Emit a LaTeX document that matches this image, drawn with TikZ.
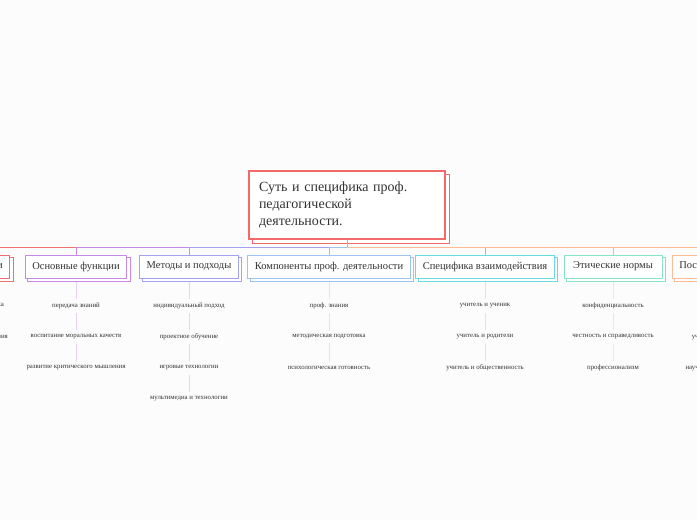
\documentclass[tikz,border=0pt]{standalone}
\usepackage{fontspec}
\setmainfont{Liberation Serif}
\usetikzlibrary{backgrounds}
\definecolor{bg}{RGB}{252,252,252}
\definecolor{txt}{RGB}{51,51,51}
\definecolor{cRoot}{RGB}{242,106,106}
\definecolor{cA}{RGB}{240,112,112}
\definecolor{cB}{RGB}{200,136,232}
\definecolor{cC}{RGB}{166,160,240}
\definecolor{cD}{RGB}{156,196,240}
\definecolor{cE}{RGB}{102,220,224}
\definecolor{cF}{RGB}{136,228,196}
\definecolor{cG}{RGB}{255,186,150}
\definecolor{cStem}{RGB}{214,176,140}
\tikzset{
  rootbox/.style={draw=cRoot, line width=1.2pt, fill=white, text=txt,
    minimum width=196pt, minimum height=68pt, text width=176pt, align=left,
    inner xsep=10pt, font=\fontsize{14}{17}\selectfont},
  branchbox/.style={draw=#1, line width=1pt, fill=white, text=txt,
    minimum height=23pt, inner xsep=7pt, font=\fontsize{10.5}{12}\selectfont},
  shadowbox/.style={draw=#1, line width=1pt, fill=white},
  item/.style={font=\fontsize{6.8}{8}\selectfont, inner sep=2pt, text=txt},
  link/.style={draw=#1, line width=1pt},
  sublink/.style={draw=#1!40!white, line width=1pt, shorten <=2pt, shorten >=2pt},
  firstlink/.style={draw=#1!40!white, line width=1pt, shorten <=3pt, shorten >=2pt},
}
\begin{document}
\begin{tikzpicture}[x=1pt,y=-1pt]
\useasboundingbox (0,0) rectangle (697,520);
\begin{scope}
\clip (0,0) rectangle (697,520);
\node[rootbox] (root) at (347,205) {Суть и специфика проф.\\педагогической\\деятельности.};
\coordinate (hub) at (347,247);

\node[branchbox=cA] (bA) at (-29,266.5) {Цели и задачи};
\node[branchbox=cB, minimum width=100pt] (bB) at (76,266.5) {Основные функции};
\node[branchbox=cC, minimum width=96pt] (bC) at (189,266.5) {Методы и подходы};
\node[branchbox=cD, minimum width=158pt] (bD) at (329,266.5) {Компоненты проф. деятельности};
\node[branchbox=cE, minimum width=134pt] (bE) at (485,266.5) {Специфика взаимодействия};
\node[branchbox=cF, minimum width=98pt] (bF) at (613,266.5) {Этические нормы};
\node[branchbox=cG] (bG) at (727,266.5) {Постоянное развитие};

\draw[link=cStem] (root.south) -- (hub);
\draw[link=cA] (hub) -| (bA.north);
\draw[link=cB] (hub) -| (bB.north);
\draw[link=cC] (hub) -| (bC.north);
\draw[link=cD] (hub) -| (bD.north);
\draw[link=cE] (hub) -| (bE.north);
\draw[link=cF] (hub) -| (bF.north);
\draw[link=cG] (hub) -| (bG.north);

% column A
\node[item] (a1) at (-36,306) {развитие личности ученика};
\node[item] (a2) at (-36,337) {формирование мировоззрения};
\node[item] (a3) at (-36,368) {обучение и воспитание};
% column B
\node[item] (b1) at (76,306) {передача знаний};
\node[item] (b2) at (76,337) {воспитание моральных качеств};
\node[item] (b3) at (76,368) {развитие критического мышления};
% column C
\node[item] (c1) at (189,306) {индивидуальный подход};
\node[item] (c2) at (189,337) {проектное обучение};
\node[item] (c3) at (189,368) {игровые технологии};
\node[item] (c4) at (189,399) {мультимедиа и технологии};
% column D
\node[item] (d1) at (329,306) {проф. знания};
\node[item] (d2) at (329,337) {методическая подготовка};
\node[item] (d3) at (329,368) {психологическая готовность};
% column E
\node[item] (e1) at (485,306) {учитель и ученик};
\node[item] (e2) at (485,337) {учитель и родители};
\node[item] (e3) at (485,368) {учитель и общественность};
% column F
\node[item] (f1) at (613,306) {конфиденциальность};
\node[item] (f2) at (613,337) {честность и справедливость};
\node[item] (f3) at (613,368) {профессионализм};
% column G
\node[item] (g1) at (727,306) {самообразование};
\node[item] (g2) at (727,337) {участие в конференциях};
\node[item] (g3) at (727,368) {научно-методическая работа};

\draw[firstlink=cA] (bA.south) -- (a1.north);
\draw[sublink=cA] (a1.south) -- (a2.north);
\draw[sublink=cA] (a2.south) -- (a3.north);
\draw[firstlink=cB] (bB.south) -- (b1.north);
\draw[sublink=cB] (b1.south) -- (b2.north);
\draw[sublink=cB] (b2.south) -- (b3.north);
\draw[firstlink=cC] (bC.south) -- (c1.north);
\draw[sublink=cC] (c1.south) -- (c2.north);
\draw[sublink=cC] (c2.south) -- (c3.north);
\draw[sublink=cC] (c3.south) -- (c4.north);
\draw[firstlink=cD] (bD.south) -- (d1.north);
\draw[sublink=cD] (d1.south) -- (d2.north);
\draw[sublink=cD] (d2.south) -- (d3.north);
\draw[firstlink=cE] (bE.south) -- (e1.north);
\draw[sublink=cE] (e1.south) -- (e2.north);
\draw[sublink=cE] (e2.south) -- (e3.north);
\draw[firstlink=cF] (bF.south) -- (f1.north);
\draw[sublink=cF] (f1.south) -- (f2.north);
\draw[sublink=cF] (f2.south) -- (f3.north);
\draw[firstlink=cG] (bG.south) -- (g1.north);
\draw[sublink=cG] (g1.south) -- (g2.north);
\draw[sublink=cG] (g2.south) -- (g3.north);
\end{scope}
\begin{scope}[on background layer]
\fill[bg] (0,0) rectangle (697,520);
\draw[shadowbox=cRoot] ([shift={(4pt,-4pt)}]root.south west) rectangle ([shift={(4pt,-4pt)}]root.north east);
\foreach \n/\c in {bA/cA,bB/cB,bC/cC,bD/cD,bE/cE,bF/cF,bG/cG}{
  \draw[shadowbox=\c] ([shift={(3pt,-3pt)}]\n.south west) rectangle ([shift={(3pt,-3pt)}]\n.north east);
}
\end{scope}
\end{tikzpicture}
\end{document}
